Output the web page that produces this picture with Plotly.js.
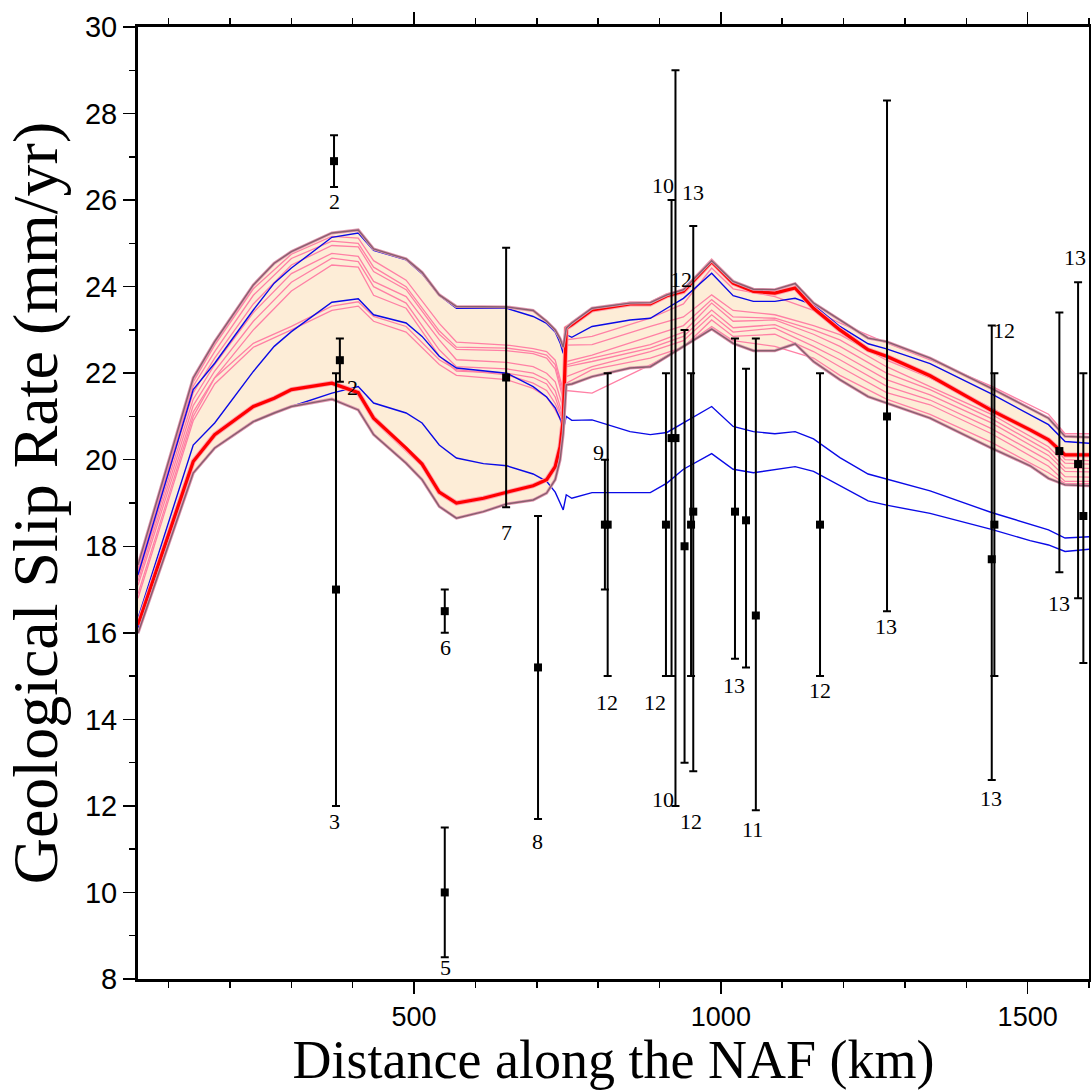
<!DOCTYPE html>
<html>
<head>
<meta charset="utf-8">
<script src="https://cdn.plot.ly/plotly-3.0.1.min.js"></script>
<style>html,body{margin:0;padding:0;background:#fff;}#chart{width:1091px;height:1090px;}</style>
</head>
<body>
<div id="chart"></div>
<script>
// ---------- DATA ----------
// vertex distances (km) of the model curves
const dist = [50,140,175,238,272,300,366,409,434,487,513,541,569,613,651,694,716,730,738,743,748,757,790,852,885,912,939,985,1020,1053,1088,1121,1151,1194,1240,1270,1341,1441,1504,1534,1561,1600];
// envelope of all models (upper / lower)
const upperEnv = [17.57,21.89,22.73,24.04,24.54,24.81,25.24,25.31,24.87,24.64,24.33,23.81,23.54,23.53,23.53,23.45,23.2,23.0,22.8,22.6,23.04,23.16,23.5,23.62,23.63,23.81,23.93,24.6,24.12,23.94,23.93,24.07,23.62,23.23,22.81,22.73,22.35,21.65,21.19,20.96,20.54,20.52];
const lowerEnv = [15.99,19.69,20.27,20.88,21.08,21.23,21.4,21.15,20.58,19.92,19.54,18.92,18.65,18.8,18.98,19.07,19.23,19.54,20.0,20.6,21.73,21.75,21.92,22.12,22.15,22.39,22.62,23.02,22.69,22.52,22.52,22.68,22.27,21.85,21.46,21.31,20.96,20.27,19.86,19.57,19.42,19.4];
// best model (red)
const bestModel = [16.18,19.96,20.58,21.23,21.42,21.62,21.77,21.55,20.96,20.27,19.9,19.25,19.0,19.11,19.25,19.4,19.54,19.84,20.3,20.92,23.04,23.12,23.46,23.6,23.6,23.79,23.89,24.58,24.08,23.89,23.85,23.97,23.5,23.0,22.54,22.39,21.94,21.14,20.69,20.46,20.11,20.11];
// blue models
const blueA = [17.34,21.62,22.23,23.46,24.08,24.43,25.14,25.24,24.84,24.62,24.3,23.8,23.5,23.5,23.5,23.31,23.15,22.95,22.7,22.46,22.89,22.83,23.08,23.23,23.27,23.5,23.73,24.31,23.79,23.66,23.66,23.73,23.58,23.08,22.68,22.56,22.22,21.52,21.04,20.81,20.42,20.38];
const blueB = [16.34,20.34,20.85,22.04,22.62,22.96,23.64,23.72,23.35,23.16,22.85,22.39,22.12,22.05,22.0,21.69,21.45,21.2,20.95,20.69,21.0,20.91,20.92,20.65,20.58,20.63,20.85,21.23,20.77,20.65,20.6,20.65,20.48,20.05,19.67,19.55,19.28,18.78,18.5,18.38,18.19,18.22];
const blueC = [16.11,19.69,20.27,20.88,21.08,21.23,21.54,21.69,21.31,21.08,20.85,20.34,20.04,19.91,19.86,19.67,19.5,19.25,19.0,18.84,19.19,19.11,19.24,19.24,19.24,19.46,19.78,20.14,19.78,19.7,19.77,19.84,19.73,19.4,19.05,18.95,18.76,18.39,18.13,18.03,17.88,17.93];
// pink models
const pinkDist = [50,140,175,238,300,366,409,434,487,541,569,651,694,716,730,743,748,790,885,939,985,1020,1088,1151,1194,1270,1341,1441,1534,1561,1600];
const pink1 = [17.5,21.8,22.65,23.95,24.75,25.16,25.12,24.6,24.15,23.15,22.72,22.65,22.57,22.5,22.3,21.6,22.77,22.85,23.27,23.6,24.43,23.95,23.77,23.45,23.16,22.7,22.31,21.7,21.05,20.6,20.6];
const pink2 = [17.45,21.7,22.5,23.8,24.65,25.05,25.0,24.45,24.0,22.98,22.6,22.58,22.5,22.42,22.2,21.5,22.65,22.66,23.08,23.3,23.81,23.45,23.35,23.1,22.89,22.3,21.89,21.2,20.45,20.0,19.98];
const pink3 = [17.4,21.55,22.35,23.6,24.5,24.95,24.92,24.35,23.93,22.9,22.55,22.52,22.45,22.35,22.1,21.4,22.27,22.42,22.85,23.1,23.7,23.3,23.27,23.0,22.77,22.15,21.69,21.05,20.3,19.92,19.9];
const pink4 = [17.3,21.4,22.2,23.4,24.3,24.77,24.7,24.12,23.77,22.77,22.31,22.25,22.15,22.0,21.8,21.2,22.19,22.35,22.66,22.95,23.62,23.2,23.23,22.9,22.62,22.0,21.62,20.95,20.2,19.81,19.8];
const pink5 = [17.2,21.25,22.05,23.2,24.1,24.66,24.58,24.0,23.62,22.54,22.15,22.1,22.0,21.85,21.6,21.0,22.15,22.27,22.58,22.85,23.46,23.05,23.12,22.75,22.46,21.85,21.5,20.85,20.1,19.73,19.72];
const pink6 = [17.1,21.1,21.9,23.0,23.9,24.5,24.45,23.8,23.5,22.4,22.05,22.0,21.9,21.75,21.45,20.9,21.92,22.15,22.5,22.75,23.35,22.95,23.04,22.62,22.31,21.7,21.38,20.72,19.98,19.61,19.6];
const pink7 = [16.9,21.0,21.89,22.69,23.08,23.55,23.65,23.31,23.08,22.31,22.08,21.96,21.77,21.6,21.3,20.9,21.77,22.08,22.35,22.6,23.23,22.85,22.9,22.5,22.15,21.55,21.27,20.6,19.85,19.5,19.5];
const pink8 = [16.8,20.9,21.75,22.6,23.0,23.45,23.55,23.2,22.95,22.2,21.95,21.85,21.65,21.45,21.15,20.8,21.6,21.54,22.19,22.62,23.08,22.75,22.62,22.35,21.95,21.4,21.05,20.4,19.7,19.45,19.45];
// geological slip-rate sites
const siteDist  = [369.5,379,372.7,550,550,650,702,811,815.5,910.5,919.6,926,940.8,951.4,955,1023,1041,1057,1161.6,1270.8,1441.5,1445.8,1551.7,1582.2,1590.8];
const siteRate  = [26.9,22.3,17.0,10.0,16.5,21.9,15.2,18.5,18.5,18.5,20.5,20.5,18.0,18.5,18.8,18.8,18.6,16.4,18.5,21.0,17.7,18.5,20.2,19.9,18.7];
const sitePlus  = [0.6,0.5,5.0,1.5,0.5,3.0,3.5,1.5,3.5,3.5,5.5,8.5,5.0,3.5,6.6,4.0,3.5,6.4,3.5,7.3,5.4,3.5,3.2,4.2,3.3];
const siteMinus = [0.6,0.5,5.0,1.5,0.5,3.0,3.5,1.5,3.5,3.5,5.5,8.5,5.0,3.5,6.0,3.4,3.4,4.5,3.5,4.5,5.1,3.5,2.8,3.1,3.4];
// reference number labels
const labelDist = [369.5,398.8,369.5,550.4,550.4,650,700.4,799.8,814.5,892.7,905.8,954.6,935,905.8,951.4,1021.5,1050.8,1161.6,1269,1461.6,1440.4,1551.2,1577.3];
const labelRate = [25.96,21.66,11.63,8.26,15.65,18.31,11.17,20.16,14.38,14.38,26.33,26.17,24.16,12.14,11.63,14.78,11.45,14.66,16.14,22.98,12.17,16.67,24.67];
const labelText = ['2','2','3','5','6','7','8','9','12','12','10','13','12','10','12','13','11','12','13','12','13','13','13'];

// ---------- TRACES ----------
const traces = [];
traces.push({x:dist, y:lowerEnv, mode:'lines', line:{width:0, color:'rgba(0,0,0,0)'}, hoverinfo:'skip'});
traces.push({x:dist, y:upperEnv, mode:'lines', fill:'tonexty', fillcolor:'rgb(253,237,215)', line:{width:0, color:'rgba(0,0,0,0)'}, hoverinfo:'skip'});
[pink1,pink2,pink3,pink4,pink5,pink6,pink7,pink8].forEach(p=>{
  traces.push({x:pinkDist, y:p, mode:'lines', line:{color:'rgb(255,128,165)', width:1.3}});
});
[blueA,blueB,blueC].forEach(b=>{
  traces.push({x:dist, y:b, mode:'lines', line:{color:'rgb(10,10,230)', width:1.4}});
});
traces.push({x:dist, y:bestModel, mode:'lines', line:{color:'rgb(255,160,175)', width:5}});
traces.push({x:dist, y:bestModel, mode:'lines', line:{color:'rgb(255,0,0)', width:3.2}});
[upperEnv, lowerEnv].forEach(e=>{
  traces.push({x:dist, y:e, mode:'lines', line:{color:'rgb(225,150,175)', width:3}});
  traces.push({x:dist, y:e, mode:'lines', line:{color:'rgb(135,95,110)', width:1.4}});
});
traces.push({x:siteDist, y:siteRate, mode:'markers', marker:{symbol:'square', size:8, color:'black'},
  error_y:{type:'data', symmetric:false, array:sitePlus, arrayminus:siteMinus, color:'black', thickness:2, width:4}});

const annotations = labelText.map((t,i)=>({x:labelDist[i], y:labelRate[i], xref:'x', yref:'y', text:t, showarrow:false,
  font:{family:'Liberation Serif, Times New Roman, serif', size:22, color:'black'}}));

const axisCommon = {
  showline:true, linewidth:3, linecolor:'black', mirror:'ticks', showgrid:false, zeroline:false,
  ticks:'outside', ticklen:12, tickwidth:1.5, tickcolor:'black'
};
const layout = {
  width:1091, height:1090,
  margin:{l:138, r:2, t:27, b:111},
  paper_bgcolor:'white', plot_bgcolor:'white',
  showlegend:false,
  xaxis:Object.assign({}, axisCommon, {
    range:[50,1600], tick0:0, dtick:500,
    tickfont:{family:'Liberation Sans, Arial, sans-serif', size:27, color:'black'},
    minor:{tick0:0, dtick:100, ticks:'outside', ticklen:6, tickwidth:1.5, tickcolor:'black', showgrid:false},
    title:{text:'Distance along the NAF (km)', font:{family:'Liberation Serif, Times New Roman, serif', size:54, color:'black'}}
  }),
  yaxis:Object.assign({}, axisCommon, {
    range:[8,30], tick0:0, dtick:2,
    tickfont:{family:'Liberation Sans, Arial, sans-serif', size:29, color:'black'},
    minor:{tick0:0, dtick:1, ticks:'outside', ticklen:6, tickwidth:1.5, tickcolor:'black', showgrid:false},
    title:{text:'Geological Slip Rate (mm/yr)', font:{family:'Liberation Serif, Times New Roman, serif', size:64, color:'black'}}
  }),
  annotations:annotations
};
Plotly.newPlot('chart', traces, layout, {staticPlot:true, displayModeBar:false});
</script>
</body>
</html>
